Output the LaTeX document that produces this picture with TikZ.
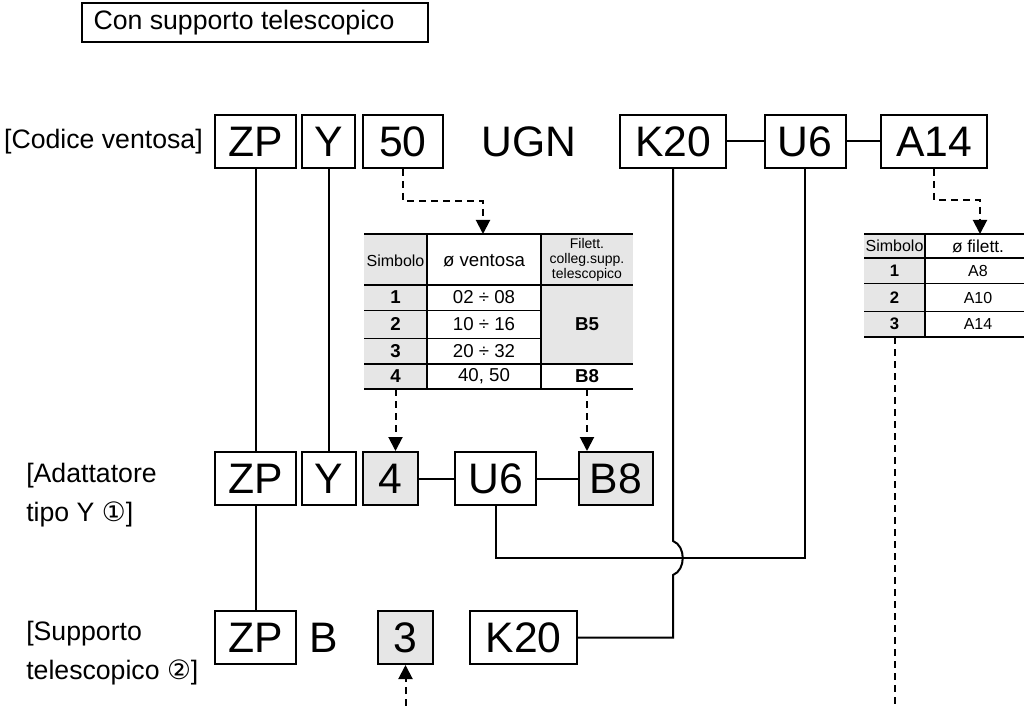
\documentclass[tikz,border=0pt]{standalone}
\usepackage{fontspec}
\setmainfont{Liberation Sans}
\newfontfamily\dejavu{DejaVu Sans}
\usetikzlibrary{arrows.meta}
\definecolor{cellgray}{RGB}{230,230,230}
\begin{document}
\begin{tikzpicture}[x=0.75pt,y=-0.75pt,
  box/.style={draw,line width=1.5pt,fill=white,inner sep=0pt,minimum height=39.75pt,font=\fontsize{32}{32}\selectfont},
  gbox/.style={box,fill=cellgray},
  big/.style={inner sep=0pt,font=\fontsize{32}{32}\selectfont},
  lbl/.style={inner sep=0pt,font=\fontsize{20}{24}\selectfont},
  conn/.style={line width=1.5pt},
  dline/.style={line width=1.5pt,dash pattern=on 5.25pt off 3.75pt},
  dconn/.style={dline,-{Triangle[width=10.5pt,length=10.5pt]}},
  th/.style={inner sep=0pt,font=\fontsize{12}{12}\selectfont},
  td/.style={inner sep=0pt,font=\fontsize{14}{14}\selectfont},
  tb/.style={inner sep=0pt,font=\fontsize{14}{14}\selectfont\bfseries},
  rd/.style={inner sep=0pt,font=\fontsize{12}{12}\selectfont},
  rb/.style={inner sep=0pt,font=\fontsize{12.5}{12.5}\selectfont\bfseries},
  ]
\useasboundingbox (0,0) rectangle (1029,706);

% title
\node[draw,line width=0.9pt,inner sep=0pt,minimum width=259.5pt,minimum height=29.25pt] (titlebox) at (255,22.5) {};
\node[lbl] (title) at (244,22.5) {Con supporto telescopico};

% left labels
\node[lbl,anchor=east] (lab1) at (203,141.5) {[Codice ventosa]};
\node[lbl,anchor=west] (lab2a) at (26,476) {[Adattatore};
\node[lbl,anchor=west] (lab2b) at (26,514) {tipo Y {\dejavu ①}]};
\node[lbl,anchor=west] (lab3a) at (26,634) {[Supporto};
\node[lbl,anchor=west] (lab3b) at (26,672) {telescopico {\dejavu ②}]};

% row 1
\node[box,minimum width=60.75pt] (zp1) at (255.5,141.5) {ZP};
\node[box,minimum width=39.75pt] (y1) at (328.5,141.5) {Y};
\node[box,minimum width=60pt] (n50) at (403,141.5) {50};
\node[big] (ugn) at (529,141.5) {UGN};
\node[box,minimum width=79.5pt] (k20a) at (673,141.5) {K20};
\node[box,minimum width=60.75pt] (u6a) at (805,141.5) {U6};
\node[box,minimum width=79.5pt] (a14) at (934,141.5) {A14};

% row 2
\node[box,minimum width=60.75pt] (zp2) at (255.5,478.5) {ZP};
\node[box,minimum width=40.5pt] (y2) at (328.5,478.5) {Y};
\node[gbox,minimum width=41.25pt] (n4) at (390.5,478.5) {4};
\node[box,minimum width=60.75pt] (u6b) at (495.5,478.5) {U6};
\node[gbox,minimum width=55.5pt] (b8) at (616,478.5) {B8};

% row 3
\node[box,minimum width=60.75pt] (zp3) at (255.5,637.5) {ZP};
\node[big] (bt) at (323.5,637.5) {B};
\node[gbox,minimum width=41.25pt] (n3) at (405.5,637.5) {3};
\node[box,minimum width=80.25pt] (k20b) at (523.5,637.5) {K20};

% left table
\fill[cellgray] (364,234) rectangle (427,389);
\fill[cellgray] (541,234) rectangle (633,364);
\draw[line width=2pt] (364,234) -- (633,234);
\draw[line width=1.1pt] (364,285) -- (633,285);
\draw[line width=0.75pt] (364,310) -- (541,310);
\draw[line width=0.75pt] (364,338) -- (541,338);
\draw[line width=1.4pt] (364,364) -- (633,364);
\draw[line width=1.4pt] (364,389) -- (633,389);
\draw[line width=0.9pt] (427,234) -- (427,389);
\draw[line width=0.9pt] (541,234) -- (541,389);
\coordinate (t1in) at (483,234);
\coordinate (t1a) at (395.5,389);
\coordinate (t1b) at (587,389);
\node[th] (h1a) at (395.5,261) {Simbolo};
\node[td] (h1b) at (484,261) {ø ventosa};
\node[inner sep=0pt,font=\fontsize{10.5}{11.2}\selectfont,align=center] (h1c) at (587,260) {Filett.\\colleg.supp.\\telescopico};
\node[tb] (s1) at (395.5,297.5) {1};
\node[td] (v1) at (484,297.5) {02 ÷ 08};
\node[tb] (s2) at (395.5,324) {2};
\node[td] (v2) at (484,324) {10 ÷ 16};
\node[tb] (s3) at (395.5,351) {3};
\node[td] (v3) at (484,351) {20 ÷ 32};
\node[tb] (s4) at (395.5,376.5) {4};
\node[td] (v4) at (484,376.5) {40, 50};
\node[tb] (f1) at (587,324) {B5};
\node[tb] (f2) at (587,376.5) {B8};

% right table
\fill[cellgray] (864,234) rectangle (925,337);
\draw[line width=2pt] (864,234) -- (1024,234);
\draw[line width=1.1pt] (864,258) -- (1024,258);
\draw[line width=0.75pt] (864,284) -- (1024,284);
\draw[line width=0.75pt] (864,311) -- (1024,311);
\draw[line width=1.4pt] (864,337) -- (1024,337);
\draw[line width=0.9pt] (925,234) -- (925,337);
\coordinate (t2in) at (980,234);
\coordinate (t2out) at (895,337);
\node[th] (h2a) at (894.5,246) {Simbolo};
\node[inner sep=0pt,font=\fontsize{13}{13}\selectfont] (h2b) at (978,246) {ø filett.};
\node[rb] (r1) at (894.5,271) {1};
\node[rd] (a1) at (978,271) {A8};
\node[rb] (r2) at (894.5,297.5) {2};
\node[rd] (a2) at (978,297.5) {A10};
\node[rb] (r3) at (894.5,324) {3};
\node[rd] (a3) at (978,324) {A14};

% connectors
\coordinate (loop) at (0,558);
\coordinate (jt) at (673,541);
\coordinate (jb) at (673,575);
\coordinate (bottom) at (0,706);
\coordinate (d50) at (483,201);
\coordinate (da14) at (980,200);

\draw[conn] (zp1) -- (zp2);
\draw[conn] (zp2) -- (zp3);
\draw[conn] (y1) -- (y2);
\draw[conn] (k20a) -- (u6a);
\draw[conn] (u6a) -- (a14);
\draw[conn] (n4) -- (u6b);
\draw[conn] (u6b) -- (b8);
\draw[conn] (u6b.south) -- (u6b.south |- loop) -| (u6a.south);
\draw[conn] (k20a.south) -- (jt) .. controls +(13,5) and +(13,-5) .. (jb) |- (k20b.east);

\draw[dconn] (n50.south) |- (d50) -- (t1in);
\draw[dconn] (a14.south) |- (da14) -- (t2in);
\draw[dconn] (t1a) -- (t1a |- n4.north);
\draw[dconn] (t1b) -- (t1b |- b8.north);
\draw[dconn] (n3.south |- bottom) -- (n3.south);
\draw[dline] (t2out) -- (t2out |- bottom);
\end{tikzpicture}
\end{document}
